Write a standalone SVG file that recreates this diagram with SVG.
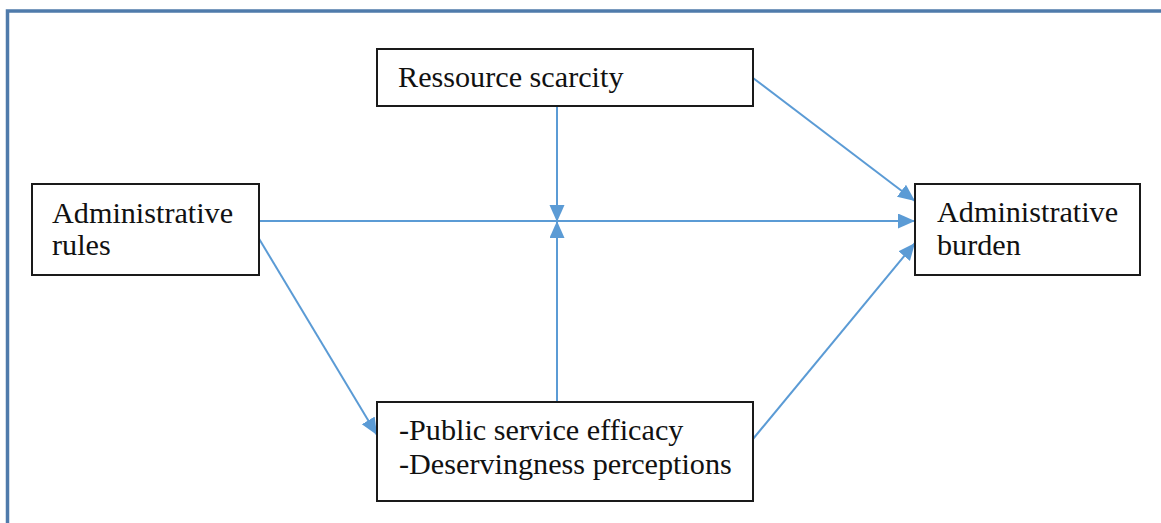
<svg xmlns="http://www.w3.org/2000/svg" width="1161" height="523" viewBox="0 0 1161 523">
  <style>
    .box { fill: #ffffff; stroke: #1a1a1a; stroke-width: 2; }
    .lbl { font-family: "Liberation Serif", "Times New Roman", serif; font-size: 30.2px; fill: #111111; }
    .conn { stroke: #5b9bd5; stroke-width: 2; fill: none; }
  </style>
  <defs>
    <marker id="arrow" markerUnits="userSpaceOnUse" markerWidth="18" markerHeight="16" refX="17" refY="7.5" orient="auto">
      <path d="M0,0 L17,7.5 L0,15 Z" fill="#5b9bd5"/>
    </marker>
  </defs>

  <rect width="1161" height="523" fill="#ffffff"/>
  <!-- frame around the figure -->
  <rect x="7.5" y="11" width="1200" height="600" fill="none" stroke="#4f7bab" stroke-width="3.5"/>

  <g id="connectors">
    <line class="conn" x1="259" y1="221" x2="915" y2="221" marker-end="url(#arrow)"/>
    <line class="conn" x1="557" y1="106" x2="557" y2="222" marker-end="url(#arrow)"/>
    <line class="conn" x1="557" y1="402" x2="557" y2="221" marker-end="url(#arrow)"/>
    <line class="conn" x1="753" y1="78" x2="915" y2="201" marker-end="url(#arrow)"/>
    <line class="conn" x1="258" y1="237" x2="377" y2="435" marker-end="url(#arrow)"/>
    <line class="conn" x1="753" y1="439" x2="915" y2="243" marker-end="url(#arrow)"/>
  </g>

  <g id="ressource-scarcity">
    <rect class="box" x="377" y="49" width="376" height="57"/>
    <text class="lbl" x="398" y="87">Ressource scarcity</text>
  </g>

  <g id="administrative-rules">
    <rect class="box" x="32" y="184" width="227" height="91"/>
    <text class="lbl" x="52" y="223">Administrative</text>
    <text class="lbl" x="52" y="255">rules</text>
  </g>

  <g id="administrative-burden">
    <rect class="box" x="915" y="184" width="225" height="91"/>
    <text class="lbl" x="937" y="222">Administrative</text>
    <text class="lbl" x="937" y="255">burden</text>
  </g>

  <g id="efficacy-deservingness">
    <rect class="box" x="377" y="402" width="376" height="99"/>
    <text class="lbl" x="399" y="440">-Public service efficacy</text>
    <text class="lbl" x="399" y="474">-Deservingness perceptions</text>
  </g>
</svg>
